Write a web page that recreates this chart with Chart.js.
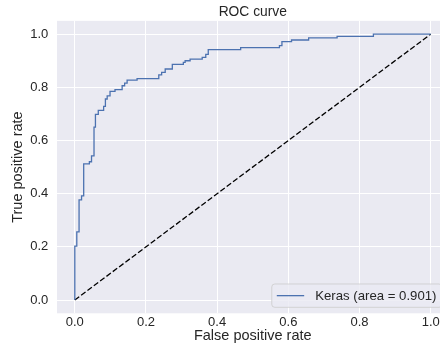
<!DOCTYPE html>
<html>
<head>
<meta charset="utf-8">
<title>ROC curve</title>
<script src="https://cdn.jsdelivr.net/npm/chart.js@4/dist/chart.umd.min.js"></script>
<style>
    html, body { margin: 0; padding: 0; background: #ffffff; }
    #wrap { width: 440px; height: 355px; overflow: hidden; }
</style>
</head>
<body>
<div id="wrap"><canvas id="roc" width="470" height="355"></canvas></div>
<script>
(function () {
    'use strict';

    // ROC corner points (false positive rate / true positive rate).
    var FPR = [
        0, 0, 0.0056, 0.0056, 0.012, 0.012, 0.019, 0.019, 0.025, 0.025,
        0.041, 0.041, 0.047, 0.047, 0.054, 0.054, 0.058, 0.058, 0.066, 0.066,
        0.081, 0.081, 0.086, 0.086, 0.091, 0.091, 0.099, 0.099, 0.113, 0.113,
        0.133, 0.133, 0.140, 0.140, 0.147, 0.147, 0.175, 0.175, 0.236, 0.236,
        0.244, 0.244, 0.254, 0.254, 0.274, 0.274, 0.305, 0.305, 0.310, 0.310,
        0.324, 0.324, 0.358, 0.358, 0.368, 0.368, 0.375, 0.375, 0.466, 0.466,
        0.575, 0.575, 0.582, 0.582, 0.609, 0.609, 0.657, 0.657, 0.737, 0.737,
        0.839, 0.839, 1.0
    ];
    var TPR = [
        0, 0.203, 0.203, 0.256, 0.256, 0.377, 0.377, 0.392, 0.392, 0.512,
        0.512, 0.520, 0.520, 0.542, 0.542, 0.650, 0.650, 0.698, 0.698, 0.713,
        0.713, 0.728, 0.728, 0.756, 0.756, 0.768, 0.768, 0.785, 0.785, 0.791,
        0.791, 0.806, 0.806, 0.816, 0.816, 0.827, 0.827, 0.833, 0.833, 0.847,
        0.847, 0.856, 0.856, 0.869, 0.869, 0.886, 0.886, 0.894, 0.894, 0.900,
        0.900, 0.906, 0.906, 0.913, 0.913, 0.924, 0.924, 0.942, 0.942, 0.949,
        0.949, 0.957, 0.957, 0.972, 0.972, 0.978, 0.978, 0.986, 0.986, 0.992,
        0.992, 1.0, 1.0
    ];

    // Chance diagonal.
    var DIAG_X = [0, 1];
    var DIAG_Y = [0, 1];

    var TICKS  = [0, 0.2, 0.4, 0.6, 0.8, 1.0];
    var LABEL  = 'Keras (area = 0.901)';

    var FONT      = '"Liberation Sans", Arial, sans-serif';
    var TEXT      = '#262626';
    var BLUE      = '#4c72b0';
    var PANEL_BG  = '#eaeaf2';

    function toPoints(xs, ys) {
        return xs.map(function (x, i) { return { x: x, y: ys[i] }; });
    }

    function fixedTicks(scale) {
        scale.ticks = TICKS.map(function (v) { return { value: v }; });
    }

    // Grey panel behind the plot area.
    var panelBg = {
        id: 'panelBg',
        beforeDraw: function (chart) {
            var a = chart.chartArea, ctx = chart.ctx;
            ctx.save();
            ctx.fillStyle = PANEL_BG;
            ctx.fillRect(a.left, a.top, a.right - a.left, a.bottom - a.top);
            ctx.restore();
        }
    };

    // Legend box in the lower right corner of the axes.
    var cornerLegend = {
        id: 'cornerLegend',
        afterDraw: function (chart) {
            var a = chart.chartArea, ctx = chart.ctx;
            ctx.save();
            ctx.font = '13.2px ' + FONT;
            var tw = ctx.measureText(LABEL).width;
            var w = 5 + 27.4 + 11 + tw + 5.5;
            var h = 23.3;
            var right = a.right - 6.5;
            var bottom = a.bottom - 6;
            var left = right - w, top = bottom - h;
            var cy = top + h / 2;

            ctx.beginPath();
            ctx.roundRect(left, top, w, h, 3);
            ctx.fillStyle = 'rgba(234,234,242,0.8)';
            ctx.fill();
            ctx.lineWidth = 1;
            ctx.strokeStyle = 'rgba(204,204,204,0.8)';
            ctx.stroke();

            ctx.beginPath();
            ctx.moveTo(left + 5, cy);
            ctx.lineTo(left + 32.4, cy);
            ctx.lineWidth = 1.3;
            ctx.strokeStyle = BLUE;
            ctx.stroke();

            ctx.fillStyle = TEXT;
            ctx.textBaseline = 'middle';
            ctx.textAlign = 'left';
            ctx.fillText(LABEL, left + 43.4, cy + 0.5);
            ctx.restore();
        }
    };

    var ctx = document.getElementById('roc').getContext('2d');

    new Chart(ctx, {
        type: 'scatter',
        data: {
            datasets: [{
                label: LABEL,
                data: toPoints(FPR, TPR),
                showLine: true,
                borderColor: BLUE,
                borderWidth: 1.3,
                pointRadius: 0,
                tension: 0,
                fill: false,
            }, {
                label: 'chance',
                data: toPoints(DIAG_X, DIAG_Y),
                showLine: true,
                borderColor: '#000000',
                borderWidth: 1.3,
                borderDash: [5.5, 2.4],
                pointRadius: 0,
                fill: false,
            }],
        },
        options: {
            responsive: false,
            animation: false,
            devicePixelRatio: 1,
            layout: { padding: { left: 0, top: 0, right: 21.5, bottom: 0 } },
            plugins: {
                legend: { display: false },
                tooltip: { enabled: false },
                title: {
                    display: true,
                    text: 'ROC curve',
                    fullSize: false,
                    color: TEXT,
                    font: { family: FONT, size: 13.8, weight: 'normal' },
                    padding: { top: 4.2, bottom: 0.1 },
                },
            },
            scales: {
                x: {
                    type: 'linear',
                    min: -0.05,
                    max: 1.05,
                    afterBuildTicks: fixedTicks,
                    afterFit: function (s) { s.height = 41.7; },
                    border: { display: false },
                    grid: { color: '#ffffff', lineWidth: 1, drawTicks: false },
                    ticks: {
                        color: TEXT,
                        padding: 1.5,
                        font: { family: FONT, size: 13 },
                        callback: function (v) { return v.toFixed(1); },
                    },
                    title: {
                        display: true,
                        text: 'False positive rate',
                        color: TEXT,
                        font: { family: FONT, size: 14.5 },
                        padding: { top: 0, bottom: 10.3 },
                    },
                },
                y: {
                    type: 'linear',
                    min: -0.05,
                    max: 1.05,
                    afterBuildTicks: fixedTicks,
                    afterFit: function (s) { s.width = 57; },
                    border: { display: false },
                    grid: { color: '#ffffff', lineWidth: 1, drawTicks: false },
                    ticks: {
                        color: TEXT,
                        padding: 8.7,
                        font: { family: FONT, size: 13 },
                        callback: function (v) { return v.toFixed(1); },
                    },
                    title: {
                        display: true,
                        text: 'True positive rate',
                        color: TEXT,
                        font: { family: FONT, size: 14.5 },
                        padding: { top: 9.6, bottom: 0 },
                    },
                },
            },
        },
        plugins: [panelBg, cornerLegend],
    });
}());
</script>
</body>
</html>
